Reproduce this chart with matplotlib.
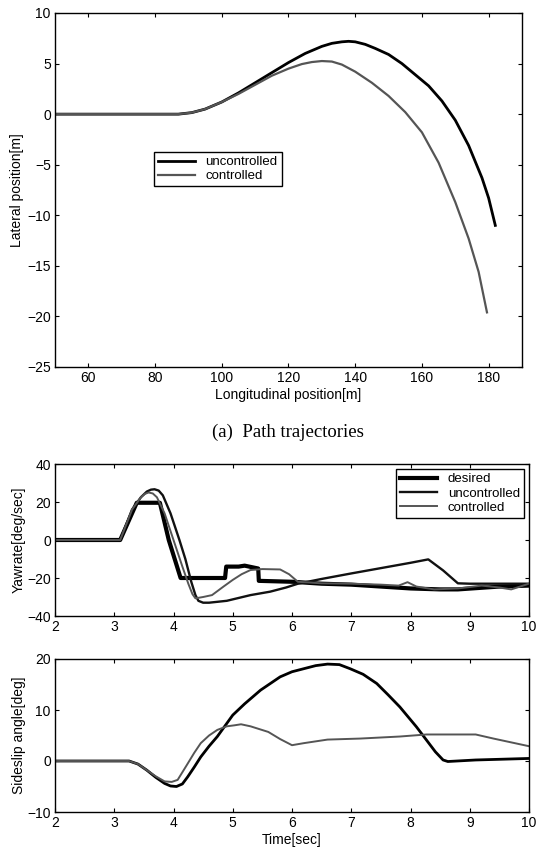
import matplotlib
matplotlib.use("Agg")
import matplotlib.pyplot as plt

plt.rcParams['font.family'] = ['Liberation Sans', 'DejaVu Sans']

# (a) path trajectories
x_unc = [50, 60, 70, 80, 87, 91, 95, 100, 105, 110, 115, 120, 125, 130, 133, 136,
         138, 140, 143, 146, 150, 154, 158, 162, 166, 170, 174, 178, 180, 182]
y_unc = [0, 0, 0, 0, 0, 0.15, 0.5, 1.2, 2.1, 3.1, 4.1, 5.1, 6.0, 6.7, 7.0, 7.15,
         7.2, 7.15, 6.9, 6.5, 5.9, 5.0, 3.9, 2.8, 1.3, -0.6, -3.1, -6.3, -8.3, -11.0]
x_ctrl = [50, 60, 70, 80, 87, 91, 95, 100, 105, 110, 115, 120, 124, 127, 130, 133,
          136, 140, 145, 150, 155, 160, 165, 170, 174, 177, 179.5]
y_ctrl = [0, 0, 0, 0, 0, 0.15, 0.5, 1.2, 2.0, 2.9, 3.8, 4.5, 4.95, 5.15, 5.25, 5.2,
          4.9, 4.2, 3.1, 1.8, 0.2, -1.8, -4.8, -8.7, -12.3, -15.6, -19.6]

# yaw rate
t_des = [2, 3.1, 3.38, 3.77, 3.92, 4.12, 4.87, 4.89, 5.1, 5.2, 5.43, 5.44, 6.02,
         6.5, 7.0, 7.5, 8.0, 8.5, 8.8, 9.5, 10]
r_des = [0, 0, 19.6, 19.6, 0, -20, -20, -14, -14, -13.5, -15, -21.5, -22,
         -23, -23.5, -24.5, -25.5, -26, -26, -24.5, -24]
t_r_unc = [2, 3.1, 3.2, 3.3, 3.45, 3.55, 3.62, 3.68, 3.75, 3.82, 3.95, 4.1, 4.2, 4.3,
           4.37, 4.42, 4.5, 4.6, 4.9, 5.1, 5.3, 5.63, 5.9, 6.1, 6.5, 7.0, 7.5, 8.0,
           8.3, 8.55, 8.8, 9.0, 9.5, 10]
r_unc = [0, 0, 8, 16, 22.5, 25.5, 26.5, 26.7, 26, 23.5, 14, 0, -10, -22,
         -29, -32, -33, -33, -32, -30.5, -29, -27.2, -25, -23, -20.5, -17.6, -14.8, -12,
         -10.2, -16, -22.8, -23, -23, -23]
t_r_ctrl = [2, 3.1, 3.2, 3.3, 3.45, 3.52, 3.58, 3.65, 3.72, 3.85, 4.0, 4.15, 4.25, 4.32,
            4.37, 4.5, 4.65, 4.84, 5.0, 5.15, 5.3, 5.5, 5.8, 5.95, 6.1, 6.5, 7.0, 7.5,
            7.8, 7.95, 8.1, 8.4, 8.8, 9.2, 9.5, 9.7, 10]
r_ctrl = [0, 0, 8, 16, 22.5, 24.3, 25, 24.5, 22.5, 14, 0, -14, -23, -28.5,
          -30.7, -30, -29, -24.6, -21, -18, -15.8, -15.3, -15.5, -18, -22, -22.8, -23, -23.5,
          -24, -22.2, -24.5, -26, -25.5, -24, -25, -26, -23]

# sideslip angle
t_b_unc = [2, 3.0, 3.25, 3.4, 3.55, 3.7, 3.85, 3.95, 4.05, 4.15, 4.24, 4.35, 4.46, 4.6,
           4.74, 4.87, 5.0, 5.2, 5.47, 5.8, 6.0, 6.2, 6.4, 6.6, 6.8, 6.98, 7.2, 7.43,
           7.62, 7.82, 8.1, 8.27, 8.42, 8.55, 8.63, 9.1, 10]
b_unc = [0, 0, 0, -0.6, -1.8, -3.2, -4.4, -4.9, -5.0, -4.5, -3.1, -1.2, 0.8, 2.9,
         4.8, 6.9, 9.0, 11.2, 13.9, 16.5, 17.5, 18.1, 18.7, 19.0, 18.9, 18.1, 17.0, 15.2,
         13.0, 10.6, 6.7, 4.1, 1.8, 0.2, -0.1, 0.2, 0.5]
t_b_ctrl = [2, 3.0, 3.25, 3.4, 3.55, 3.7, 3.85, 3.97, 4.07, 4.15, 4.24, 4.35, 4.46, 4.6,
            4.74, 4.9, 5.03, 5.14, 5.3, 5.6, 5.8, 6.0, 6.2, 6.6, 7.15, 7.82, 8.27, 9.1,
            9.4, 10]
b_ctrl = [0, 0, 0, -0.6, -1.8, -3.0, -4.0, -4.1, -3.7, -2.2, -0.5, 1.6, 3.5, 5.0,
          6.1, 6.8, 7.0, 7.2, 6.8, 5.7, 4.3, 3.1, 3.5, 4.2, 4.4, 4.8, 5.2, 5.2,
          4.4, 2.9]

W, H = 537, 852
fig = plt.figure(figsize=(W / 100, H / 100), dpi=100)


def box(l, t, r, b):
    return [l / W, 1 - b / H, (r - l) / W, (b - t) / H]


def style(ax):
    ax.tick_params(direction='in', top=True, right=True, labelsize=10, length=3, pad=3)
    for s in ax.spines.values():
        s.set_linewidth(1.0)


ax1 = fig.add_axes(box(55, 13, 522, 367))
ax1.plot(x_unc, y_unc, color='black', lw=2.0, label='uncontrolled')
ax1.plot(x_ctrl, y_ctrl, color='#555555', lw=1.6, label='controlled')
ax1.set_xlim(50, 190)
ax1.set_ylim(-25, 10)
ax1.set_xticks([60, 80, 100, 120, 140, 160, 180])
ax1.set_yticks([-25, -20, -15, -10, -5, 0, 5, 10])
ax1.set_xlabel('Longitudinal position[m]', fontsize=10, labelpad=2)
ax1.set_ylabel('Lateral position[m]', fontsize=10, labelpad=2)
style(ax1)
ax1.legend(loc='upper left', bbox_to_anchor=(154 / W, 1 - 152 / H),
           bbox_transform=fig.transFigure, fontsize=9.5, fancybox=False,
           edgecolor='black', framealpha=1, borderaxespad=0, handlelength=2.8,
           borderpad=0.3, labelspacing=0.15)
fig.text(288 / W, 1 - 432 / H, '(a)  Path trajectories', ha='center', va='center',
         fontsize=13.5, family=['Liberation Serif', 'DejaVu Serif'])

ax2 = fig.add_axes(box(55, 464, 529, 616))
ax2.plot(t_des, r_des, color='black', lw=3.0, label='desired')
ax2.plot(t_r_unc, r_unc, color='#111111', lw=1.7, label='uncontrolled')
ax2.plot(t_r_ctrl, r_ctrl, color='#555555', lw=1.4, label='controlled')
ax2.set_xlim(2, 10)
ax2.set_ylim(-40, 40)
ax2.set_yticks([-40, -20, 0, 20, 40])
ax2.set_ylabel('Yawrate[deg/sec]', fontsize=10, labelpad=1)
style(ax2)
ax2.legend(loc='upper right', fontsize=9.5, fancybox=False, edgecolor='black',
           framealpha=1, borderaxespad=0.4, handlelength=2.8, borderpad=0.3,
           labelspacing=0.15)

ax3 = fig.add_axes(box(55, 659, 529, 812))
ax3.plot(t_b_unc, b_unc, color='black', lw=2.0)
ax3.plot(t_b_ctrl, b_ctrl, color='#555555', lw=1.4)
ax3.set_xlim(2, 10)
ax3.set_ylim(-10, 20)
ax3.set_yticks([-10, 0, 10, 20])
ax3.set_xlabel('Time[sec]', fontsize=10, labelpad=2)
ax3.set_ylabel('Sideslip angle[deg]', fontsize=10, labelpad=1)
style(ax3)

fig.savefig('out.png', dpi=100)
